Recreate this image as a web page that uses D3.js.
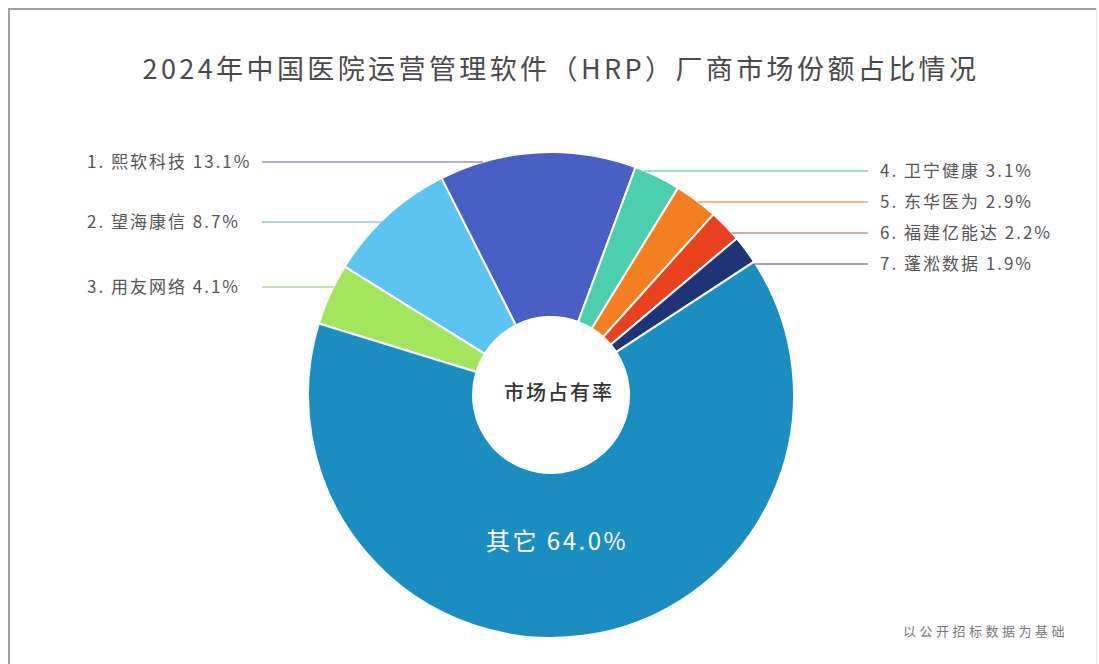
<!DOCTYPE html>
<html>
<head>
<meta charset="utf-8">
<script src="https://cdn.jsdelivr.net/npm/d3@7"></script>
<style>
  html, body { margin: 0; padding: 0; background: #fff; }
  svg { display: block; font-family: "Noto Sans CJK SC", "Noto Sans", sans-serif; }
</style>
</head>
<body>
<div id="chart"></div>
<script>
// datos del gráfico
const vendors = ["熙软科技", "望海康信", "用友网络", "卫宁健康", "东华医为", "福建亿能达", "蓬淞数据", "其它"];
const shares = [13.1, 8.7, 4.1, 3.1, 2.9, 2.2, 1.9, 64.0];
const sliceColors = ["#4a5fc6", "#5cc4f1", "#a2e45a", "#4ccfae", "#f57f20", "#e9421e", "#1f3377", "#1a8ec1"];
// orden en el que se dibujan las porciones (sentido horario)
const drawOrder = ["熙软科技", "卫宁健康", "东华医为", "福建亿能达", "蓬淞数据", "其它", "用友网络", "望海康信"];
const titleText = "2024年中国医院运营管理软件（HRP）厂商市场份额占比情况";
const centerText = "市场占有率";
const noteText = "以公开招标数据为基础";

const width = 1099, height = 664;
const cx = 551, cy = 395;
const outerR = 243, innerR = 78;

// posición vertical de cada etiqueta lateral
const labelLayout = {
  "熙软科技": { side: "left", y: 162 },
  "望海康信": { side: "left", y: 222 },
  "用友网络": { side: "left", y: 287 },
  "卫宁健康": { side: "right", y: 171 },
  "东华医为": { side: "right", y: 202 },
  "福建亿能达": { side: "right", y: 233 },
  "蓬淞数据": { side: "right", y: 264 }
};

const data = vendors.map((name, i) => ({ name: name, value: shares[i], color: sliceColors[i], idx: i + 1 }));

const svg = d3.select("#chart").append("svg")
  .attr("width", width)
  .attr("height", height);

// marco
svg.append("line").attr("x1", 9).attr("x2", 1097).attr("y1", 9).attr("y2", 9)
  .attr("stroke", "#a0a0a0").attr("stroke-width", 2);
svg.append("line").attr("x1", 9).attr("x2", 9).attr("y1", 8).attr("y2", height)
  .attr("stroke", "#a0a0a0").attr("stroke-width", 2);
svg.append("line").attr("x1", 1096.5).attr("x2", 1096.5).attr("y1", 8).attr("y2", height)
  .attr("stroke", "#ececec").attr("stroke-width", 1);

svg.append("text")
  .attr("x", 561)
  .attr("y", 79)
  .attr("text-anchor", "middle")
  .style("font-size", "27px")
  .style("letter-spacing", "3.4px")
  .attr("fill", "#4a4a4a")
  .text(titleText);

const pie = d3.pie()
  .value(d => d.value)
  .sort((a, b) => drawOrder.indexOf(a.name) - drawOrder.indexOf(b.name))
  .startAngle(-26.8 * Math.PI / 180)
  .endAngle(-26.8 * Math.PI / 180 + 2 * Math.PI);

const arc = d3.arc().innerRadius(innerR).outerRadius(outerR);

const g = svg.append("g").attr("transform", "translate(" + cx + "," + cy + ")");

const arcs = pie(data);

g.selectAll("path.slice")
  .data(arcs)
  .enter().append("path")
  .attr("class", "slice")
  .attr("d", arc)
  .attr("fill", d => d.data.color)
  .attr("stroke", "#ffffff")
  .attr("stroke-width", 2)
  .attr("stroke-linejoin", "round");

// lineas guia y etiquetas (color de la porción algo agrisado)
const labeled = data.filter(d => labelLayout[d.name]);

labeled.forEach(d => {
  const lay = labelLayout[d.name];
  const dy = lay.y - cy;
  const dx = Math.sqrt(outerR * outerR - dy * dy) - 1;
  const txt = d.idx + ". " + d.name + " " + d.value.toFixed(1) + "%";
  const lineColor = d3.interpolateRgb(d.color, "#777")(0.35);
  const x1 = lay.side === "left" ? 262 : cx + dx;
  const x2 = lay.side === "left" ? cx - dx : 868;
  svg.append("line")
    .attr("x1", x1).attr("x2", x2)
    .attr("y1", lay.y).attr("y2", lay.y)
    .attr("stroke", lineColor).attr("stroke-width", 1.2);
  svg.append("text")
    .attr("x", lay.side === "left" ? 87 : 880).attr("y", lay.y)
    .attr("dy", "0.35em")
    .style("font-size", "17px")
    .style("letter-spacing", "2px")
    .attr("fill", "#555")
    .text(txt);
});

// texto central
svg.append("text")
  .attr("x", cx + 8).attr("y", cy + 5)
  .attr("text-anchor", "middle")
  .style("font-size", "20px")
  .style("font-weight", "500")
  .style("letter-spacing", "2px")
  .attr("fill", "#333")
  .text(centerText);

// etiqueta de "其它"
const other = arcs.find(a => a.data.name === "其它");
svg.append("text")
  .attr("x", cx + 6).attr("y", 550)
  .attr("text-anchor", "middle")
  .style("font-size", "24px")
  .style("letter-spacing", "2.5px")
  .attr("fill", "#ffffff")
  .text(other.data.name + " " + other.data.value.toFixed(1) + "%");

svg.append("text")
  .attr("x", 903).attr("y", 636)
  .style("font-size", "13px")
  .style("letter-spacing", "3.5px")
  .attr("fill", "#777")
  .text(noteText);
</script>
</body>
</html>
